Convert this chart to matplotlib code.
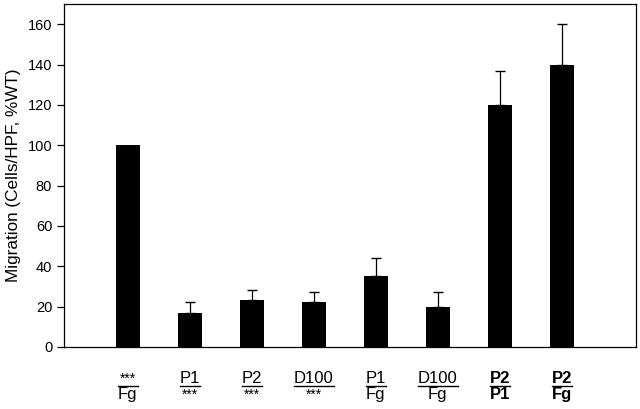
import matplotlib
matplotlib.use("Agg")
import matplotlib.pyplot as plt
import matplotlib.transforms as mtransforms
import numpy as np

plt.rcParams['font.family'] = ['Liberation Sans', 'DejaVu Sans']

# data
top_labels = ["***", "P1", "P2", "D100", "P1", "D100", "P2", "P2"]
bottom_labels = ["Fg", "***", "***", "***", "Fg", "Fg", "P1", "Fg"]
migration = [100, 17, 23, 22, 35, 20, 120, 140]
errors = [0, 5, 5, 5, 9, 7, 17, 20]
bold = [False, False, False, False, False, False, True, True]

fig = plt.figure(figsize=(6.4, 4.09), dpi=100)
ax = fig.add_axes([0.1, 0.152, 0.894, 0.838])

x = np.arange(len(migration))
ax.bar(x, migration, width=0.38, color='black')
has_err = np.array(errors) > 0
ax.errorbar(x[has_err], np.array(migration)[has_err],
            yerr=[np.zeros(has_err.sum()), np.array(errors)[has_err]], fmt='none',
            ecolor='black', elinewidth=0.9, capsize=3.6, capthick=1.0)

ax.set_xlim(-1.03, 8.2)
ax.set_ylim(0, 170)
ax.set_yticks(np.arange(0, 161, 20))
ax.set_xticks([])
ax.tick_params(axis='y', direction='out', length=5, labelsize=10.5, width=0.9)
for sp in ax.spines.values():
    sp.set_linewidth(0.9)
ax.set_ylabel("Migration (Cells/HPF, %WT)", fontsize=12.3, labelpad=5)

# two-line labels with a dividing rule
trans = mtransforms.blended_transform_factory(ax.transData, ax.transAxes)
pairs = []
for xi, top, bot, b in zip(x, top_labels, bottom_labels, bold):
    w = 'bold' if b else 'normal'
    t1 = ax.text(xi, -0.106, top, transform=trans, ha='center', va='baseline',
                 fontsize=12 if top != "***" else 10, fontweight=w)
    t2 = ax.text(xi, -0.152, bot, transform=trans, ha='center', va='baseline',
                 fontsize=12 if bot != "***" else 10, fontweight=w)
    pairs.append((t1, t2))

fig.canvas.draw()
renderer = fig.canvas.get_renderer()
inv = ax.transData.inverted()
for t1, t2 in pairs:
    bb1 = t1.get_window_extent(renderer)
    bb2 = t2.get_window_extent(renderer)
    w = max(bb1.width, bb2.width) if t1.get_text() == "***" else bb1.width
    cx = bb1.x0 + bb1.width / 2
    x0 = inv.transform((cx - w / 2, 0))[0]
    x1 = inv.transform((cx + w / 2, 0))[0]
    ax.plot([x0, x1], [-0.114, -0.114], transform=trans, color='black',
            lw=1.0, clip_on=False)

fig.savefig("out.png", dpi=100)
